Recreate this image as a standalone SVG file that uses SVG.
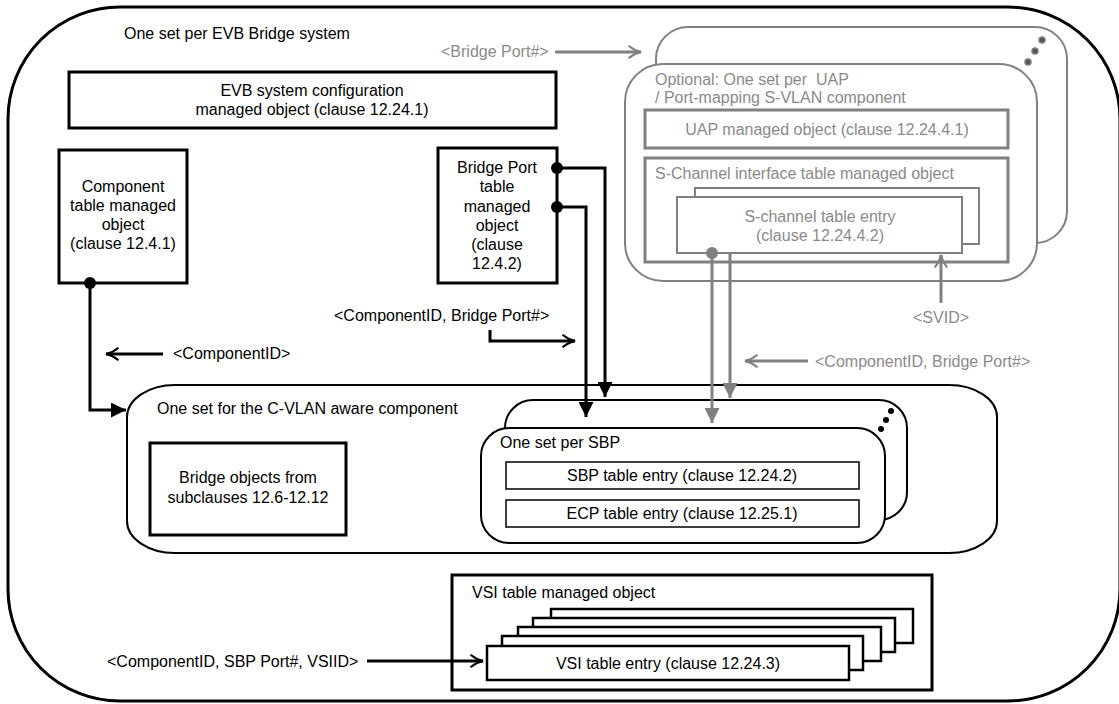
<svg xmlns="http://www.w3.org/2000/svg" width="1119" height="704" viewBox="0 0 1119 704">
  <defs>
    <style>
      text { font-family: "Liberation Sans", Arial, sans-serif; font-size: 16px; fill: #000; }
      .g { fill: #8a8a8a; }
      .mid { text-anchor: middle; }
      .thick { fill: #fff; stroke: #000; stroke-width: 3; }
      .stack { fill: #fff; stroke: #000; stroke-width: 2.5; }
      .thin { fill: #fff; stroke: #000; stroke-width: 1.5; }
      .round { fill: #fff; stroke: #000; stroke-width: 2; }
      .gbox { fill: #fff; stroke: #808080; stroke-width: 3; }
      .gthin { fill: #fff; stroke: #808080; stroke-width: 2; }
      .wire { fill: none; stroke: #000; stroke-width: 3; }
      .gwire { fill: none; stroke: #808080; stroke-width: 3; }
    </style>
    <marker id="solid" viewBox="0 0 10 10" refX="10" refY="5" markerWidth="5" markerHeight="5" markerUnits="strokeWidth" orient="auto">
      <path d="M0,0 L10,5 L0,10 Z" fill="#000"/>
    </marker>
    <marker id="gsolid" viewBox="0 0 10 10" refX="10" refY="5" markerWidth="5" markerHeight="5" markerUnits="strokeWidth" orient="auto">
      <path d="M0,0 L10,5 L0,10 Z" fill="#808080"/>
    </marker>
    <marker id="open" viewBox="0 0 12 12" refX="11" refY="6" markerWidth="5" markerHeight="5" markerUnits="strokeWidth" orient="auto">
      <path d="M1,1 Q6,5 11,6 Q6,7 1,11" fill="none" stroke="#000" stroke-width="1.6"/>
    </marker>
    <marker id="gopen" viewBox="0 0 12 12" refX="11" refY="6" markerWidth="5" markerHeight="5" markerUnits="strokeWidth" orient="auto">
      <path d="M1,1 Q6,5 11,6 Q6,7 1,11" fill="none" stroke="#808080" stroke-width="1.6"/>
    </marker>
  </defs>

  <rect width="1119" height="704" fill="#fff"/>

  <!-- outer EVB Bridge system frame -->
  <g id="evb-system">
    <rect x="8" y="7" width="1112" height="694" rx="112" ry="112" fill="none" stroke="#000" stroke-width="3"/>
    <text x="124" y="39">One set per EVB Bridge system</text>
  </g>

  <g id="evb-config">
    <rect class="thick" x="69" y="72" width="487" height="56"/>
    <text class="mid" x="312" y="96">EVB system configuration</text>
    <text class="mid" x="312" y="115">managed object (clause 12.24.1)</text>
  </g>

  <g id="component-table">
    <rect class="thick" x="59" y="150" width="128" height="133"/>
    <text class="mid" x="123" y="192">Component</text>
    <text class="mid" x="123" y="211">table managed</text>
    <text class="mid" x="123" y="230">object</text>
    <text class="mid" x="123" y="249">(clause 12.4.1)</text>
  </g>

  <g id="bridge-port-table">
    <rect class="thick" x="438" y="148" width="119" height="135"/>
    <text class="mid" x="497" y="173">Bridge Port</text>
    <text class="mid" x="497" y="192">table</text>
    <text class="mid" x="497" y="212">managed</text>
    <text class="mid" x="497" y="231">object</text>
    <text class="mid" x="497" y="250">(clause</text>
    <text class="mid" x="497" y="269">12.4.2)</text>
  </g>

  <!-- optional UAP / port-mapping S-VLAN component set -->
  <g id="uap-set">
    <rect class="gthin" x="656" y="27" width="411" height="216" rx="32" ry="32"/>
    <g fill="#555" stroke="#808080" stroke-width="1.5">
      <circle cx="1042" cy="40" r="3"/>
      <circle cx="1035" cy="51" r="3"/>
      <circle cx="1028" cy="62" r="3"/>
    </g>
    <rect class="gthin" x="625" y="64" width="412" height="217" rx="38" ry="38"/>
    <text class="g" x="655" y="85" xml:space="preserve">Optional: One set per  UAP</text>
    <text class="g" x="655" y="103">/ Port-mapping S-VLAN component</text>
  </g>

  <g id="uap-object">
    <rect class="gbox" x="645" y="110" width="363" height="38"/>
    <text class="g mid" x="827" y="135">UAP managed object (clause 12.24.4.1)</text>
  </g>

  <g id="s-channel-table">
    <rect class="gbox" x="645" y="158" width="363" height="104"/>
    <text class="g" x="655" y="179">S-Channel interface table managed object</text>
    <rect class="gthin" x="695" y="188" width="284" height="56"/>
    <rect class="gthin" x="677" y="197" width="285" height="56"/>
    <text class="g mid" x="820" y="222">S-channel table entry</text>
    <text class="g mid" x="820" y="241">(clause 12.24.4.2)</text>
  </g>

  <!-- C-VLAN aware component set -->
  <g id="cvlan-component">
    <rect class="round" x="127" y="385" width="870" height="168" rx="48" ry="32"/>
    <text x="157" y="414">One set for the C-VLAN aware component</text>
  </g>

  <g id="bridge-objects">
    <rect class="thick" x="150" y="443" width="196" height="92"/>
    <text class="mid" x="248" y="483">Bridge objects from</text>
    <text class="mid" x="248" y="503">subclauses 12.6-12.12</text>
  </g>

  <g id="sbp-set">
    <rect class="round" x="505" y="400" width="402" height="120" rx="28" ry="28"/>
    <g fill="#000">
      <circle cx="891" cy="411" r="3"/>
      <circle cx="886" cy="420" r="3"/>
      <circle cx="881" cy="429" r="3"/>
    </g>
    <rect class="round" x="481" y="428" width="404" height="115" rx="28" ry="28"/>
    <text x="500" y="448">One set per SBP</text>
    <rect class="thin" x="506" y="462" width="353" height="27"/>
    <text class="mid" x="682" y="481">SBP table entry (clause 12.24.2)</text>
    <rect class="thin" x="506" y="500" width="353" height="27"/>
    <text class="mid" x="682" y="519">ECP table entry (clause 12.25.1)</text>
  </g>

  <g id="vsi-table">
    <rect class="thick" x="452" y="575" width="480" height="115"/>
    <text x="472" y="598">VSI table managed object</text>
    <rect class="stack" x="551" y="609" width="362" height="34"/>
    <rect class="stack" x="533" y="618" width="362" height="34"/>
    <rect class="stack" x="518" y="627" width="363" height="34"/>
    <rect class="stack" x="502" y="636" width="361" height="34"/>
    <rect class="stack" x="487" y="646" width="362" height="34"/>
    <text class="mid" x="668" y="669">VSI table entry (clause 12.24.3)</text>
  </g>

  <!-- connectors and index labels -->
  <g id="connectors">
    <path class="wire" d="M90,283 V410 H126" marker-end="url(#solid)"/>
    <circle cx="90" cy="283" r="6"/>

    <path class="wire" d="M557,168 H605 V397" marker-end="url(#solid)"/>
    <circle cx="557" cy="168" r="6"/>
    <path class="wire" d="M557,207 H586 V417" marker-end="url(#solid)"/>
    <circle cx="557" cy="207" r="6"/>

    <path class="gwire" d="M712,253 V423" marker-end="url(#gsolid)"/>
    <circle cx="712" cy="253" r="6" fill="#808080"/>
    <path class="gwire" d="M730,253 V398" marker-end="url(#gsolid)"/>

    <path class="gwire" d="M941,303 V255" marker-end="url(#gopen)"/>
    <text class="g" x="913" y="323">&lt;SVID&gt;</text>

    <path class="gwire" d="M808,361 H745" marker-end="url(#gopen)"/>
    <text class="g" x="815" y="367">&lt;ComponentID, Bridge Port#&gt;</text>

    <path class="gwire" d="M555,52 H641" marker-end="url(#gopen)"/>
    <text class="g" x="441" y="57">&lt;Bridge Port#&gt;</text>

    <path class="wire" d="M163,354 H106" marker-end="url(#open)"/>
    <text x="173" y="359">&lt;ComponentID&gt;</text>

    <path class="wire" d="M490,330 V341 H575" marker-end="url(#open)"/>
    <text x="334" y="321">&lt;ComponentID, Bridge Port#&gt;</text>

    <path class="wire" d="M367,661 H483" marker-end="url(#open)"/>
    <text x="107" y="667">&lt;ComponentID, SBP Port#, VSIID&gt;</text>
  </g>
</svg>
